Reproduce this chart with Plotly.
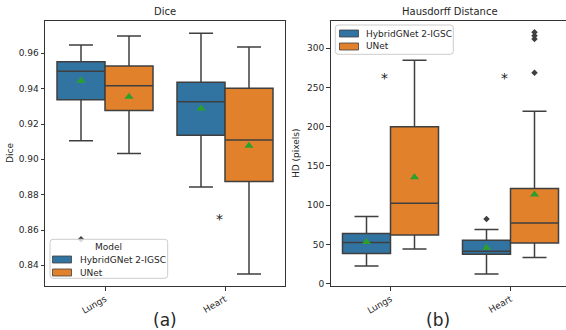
import plotly.graph_objects as go

categories = ["Lungs", "Heart"]
models = ["HybridGNet 2-IGSC", "UNet"]

# Dice statistics per category (Lungs, Heart)
dice_hyb_lower = [0.9105, 0.8843]
dice_hyb_q1 = [0.9337, 0.9137]
dice_hyb_median = [0.9498, 0.9326]
dice_hyb_q3 = [0.9553, 0.9437]
dice_hyb_upper = [0.9647, 0.9713]
dice_hyb_mean = [0.9445, 0.9288]
dice_hyb_fliers = [[0.8548], []]

dice_unet_lower = [0.9033, 0.8351]
dice_unet_q1 = [0.9277, 0.8874]
dice_unet_median = [0.9417, 0.9109]
dice_unet_q3 = [0.9528, 0.9403]
dice_unet_upper = [0.9698, 0.9636]
dice_unet_mean = [0.9354, 0.9077]
dice_unet_fliers = [[], []]

dice_star_y = [None, 0.8685]

# Hausdorff distance statistics per category (Lungs, Heart)
hd_hyb_lower = [22.6, 12.4]
hd_hyb_q1 = [38.3, 37.5]
hd_hyb_median = [52.3, 41.3]
hd_hyb_q3 = [63.8, 55.4]
hd_hyb_upper = [85.5, 68.9]
hd_hyb_mean = [53.0, 45.9]
hd_hyb_fliers = [[], [82.5]]

hd_unet_lower = [44.3, 33.2]
hd_unet_q1 = [62.1, 51.9]
hd_unet_median = [102.6, 77.4]
hd_unet_q3 = [200.0, 121.2]
hd_unet_upper = [284.7, 219.6]
hd_unet_mean = [135.7, 113.5]
hd_unet_fliers = [[], [268.9, 312.0, 316.0, 320.5]]

hd_star_y = [267.2, 267.2]

dice_ticks = [0.84, 0.86, 0.88, 0.90, 0.92, 0.94, 0.96]
hd_ticks = [0, 50, 100, 150, 200, 250, 300]

# ---------------- styling ----------------
W, H = 566, 330
FONT = "DejaVu Sans"
COLORS = ["#3274a1", "#e1812c"]
EDGE = "#3f3f3f"
MEAN_C = "#2ca02c"
TXT = "#262626"
BOXW = 0.4
OFFS = [-0.2, 0.2]


def px(x):
    return x / W


def py(y):
    return 1 - y / H


fig = go.Figure()

panels = [
    dict(xa="x", ya="y",
         stats=[(dice_hyb_lower, dice_hyb_q1, dice_hyb_median, dice_hyb_q3, dice_hyb_upper, dice_hyb_mean, dice_hyb_fliers),
                (dice_unet_lower, dice_unet_q1, dice_unet_median, dice_unet_q3, dice_unet_upper, dice_unet_mean, dice_unet_fliers)],
         stars=dice_star_y),
    dict(xa="x2", ya="y2",
         stats=[(hd_hyb_lower, hd_hyb_q1, hd_hyb_median, hd_hyb_q3, hd_hyb_upper, hd_hyb_mean, hd_hyb_fliers),
                (hd_unet_lower, hd_unet_q1, hd_unet_median, hd_unet_q3, hd_unet_upper, hd_unet_mean, hd_unet_fliers)],
         stars=hd_star_y),
]

annotations = []
for p in panels:
    for m, (lo, q1, med, q3, up, mean, fl) in enumerate(p["stats"]):
        xs = [i + OFFS[m] for i in range(len(categories))]
        fig.add_trace(go.Box(
            x=xs, q1=q1, median=med, q3=q3, lowerfence=lo, upperfence=up,
            width=BOXW, whiskerwidth=0.5, fillcolor=COLORS[m],
            line=dict(color=EDGE, width=1.5), boxpoints=False,
            name=models[m], showlegend=False, hoverinfo="skip",
            xaxis=p["xa"], yaxis=p["ya"]))
        fx, fy = [], []
        for i, vals in enumerate(fl):
            for v in vals:
                fx.append(i + OFFS[m])
                fy.append(v)
        if fx:
            fig.add_trace(go.Scatter(
                x=fx, y=fy, mode="markers", showlegend=False,
                marker=dict(symbol="diamond", size=5, color=EDGE),
                xaxis=p["xa"], yaxis=p["ya"]))
        fig.add_trace(go.Scatter(
            x=xs, y=mean, mode="markers", showlegend=False,
            marker=dict(symbol="triangle-up", size=8, color=MEAN_C),
            xaxis=p["xa"], yaxis=p["ya"]))
    for i, sy in enumerate(p["stars"]):
        if sy is not None:
            annotations.append(dict(
                x=i - 0.05, y=sy, xref=p["xa"], yref=p["ya"], text="*",
                showarrow=False, font=dict(family=FONT, size=14, color="#222222"),
                yshift=-4))

axis_common = dict(showgrid=False, zeroline=False, showline=True, linecolor="#333333",
                   linewidth=1, ticks="outside", ticklen=3.5, tickwidth=1, tickcolor="#333333",
                   automargin=False,
                   tickfont=dict(family=FONT, size=9, color=TXT))

fig.update_layout(
    width=W, height=H, margin=dict(l=0, r=0, t=0, b=0, autoexpand=False),
    paper_bgcolor="white", plot_bgcolor="white", showlegend=False,
    xaxis=dict(domain=[px(45), px(285)], range=[-0.5, 1.5], tickvals=[0, 1], ticktext=categories,
               tickangle=-30, mirror=True, anchor="y", **axis_common),
    yaxis=dict(domain=[py(286), py(21)], range=[0.8283, 0.9783], tickvals=dice_ticks,
               ticktext=[f"{t:.2f}" for t in dice_ticks], mirror=True, anchor="x", **axis_common),
    xaxis2=dict(domain=[px(330.5), 1.0], range=[-0.5, -0.5 + (W - 330.5) / 120.0], tickvals=[0, 1],
                ticktext=categories, tickangle=-30, mirror=True, anchor="y2", **axis_common),
    yaxis2=dict(domain=[py(286), py(21)], range=[-3.0, 334.8], tickvals=hd_ticks,
                ticktext=[str(t) for t in hd_ticks], mirror=False, anchor="x2", **axis_common),
)

# titles, axis titles, subfigure labels
texts = [
    ("Dice", 165, 11.5, 10, 0),
    ("Hausdorff Distance", 450, 11.5, 10, 0),
    ("Dice", 10, 153, 9, -90),
    ("HD (pixels)", 296, 153, 9, -90),
    ("(a)", 165, 320, 17, 0),
    ("(b)", 438, 320, 17, 0),
]
for t, x, y, s, ang in texts:
    annotations.append(dict(text=t, x=px(x), y=py(y), xref="paper", yref="paper",
                            xanchor="center", yanchor="middle", showarrow=False,
                            textangle=ang, font=dict(family=FONT, size=s, color=TXT)))


def rounded_rect(x0, y0, x1, y1, r=3):
    # pixel coords -> paper path with rounded corners
    def P(x, y):
        return f"{px(x):.5f},{py(y):.5f}"
    return (f"M{P(x0 + r, y0)} L{P(x1 - r, y0)} Q{P(x1, y0)} {P(x1, y0 + r)} "
            f"L{P(x1, y1 - r)} Q{P(x1, y1)} {P(x1 - r, y1)} L{P(x0 + r, y1)} "
            f"Q{P(x0, y1)} {P(x0, y1 - r)} L{P(x0, y0 + r)} Q{P(x0, y0)} {P(x0 + r, y0)} Z")


shapes = []
legends = [
    dict(box=(50, 239.3, 167.7, 278.3), title="Model", title_y=246.5,
         rows=[259.5, 272.5], patch_x=(52.5, 71.5), text_x=78.5),
    dict(box=(335.3, 25, 453.3, 54.3), title=None, title_y=None,
         rows=[33.5, 46.5], patch_x=(339.5, 358.5), text_x=363.5),
]
for lg in legends:
    x0, y0, x1, y1 = lg["box"]
    shapes.append(dict(type="path", path=rounded_rect(x0, y0, x1, y1), xref="paper", yref="paper",
                       fillcolor="rgba(255,255,255,0.8)", line=dict(color="#cccccc", width=1),
                       layer="above"))
    if lg["title"]:
        annotations.append(dict(text=lg["title"], x=px((x0 + x1) / 2), y=py(lg["title_y"]),
                                xref="paper", yref="paper", showarrow=False,
                                xanchor="center", yanchor="middle",
                                font=dict(family=FONT, size=9, color=TXT)))
    for k, ry in enumerate(lg["rows"]):
        pa, pb = lg["patch_x"]
        shapes.append(dict(type="rect", xref="paper", yref="paper",
                           x0=px(pa), x1=px(pb), y0=py(ry + 3.5), y1=py(ry - 3.5),
                           fillcolor=COLORS[k], line=dict(color=EDGE, width=0.8), layer="above"))
        annotations.append(dict(text=models[k], x=px(lg["text_x"]), y=py(ry), xref="paper",
                                yref="paper", showarrow=False, xanchor="left", yanchor="middle",
                                font=dict(family=FONT, size=9, color=TXT)))

fig.update_layout(annotations=annotations, shapes=shapes)
fig.write_html("out.html", config={"displayModeBar": False},
               post_script="document.body.style.margin='0';document.body.style.overflow='hidden';")
